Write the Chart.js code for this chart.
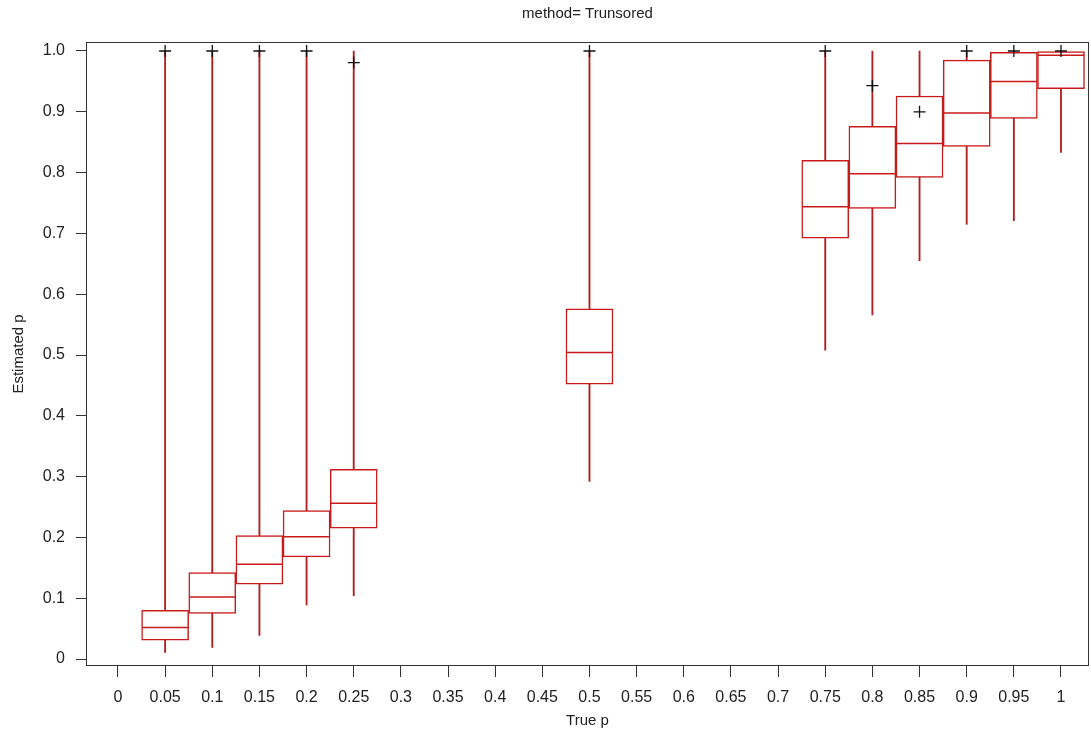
<!DOCTYPE html>
<html>
<head>
<meta charset="utf-8">
<script src="https://cdn.jsdelivr.net/npm/chart.js@4.4.1/dist/chart.umd.min.js"></script>
<style>
  body { margin: 0; background: #fff; }
  #wrap { width: 1091px; height: 751px; }
</style>
</head>
<body>
<div id="wrap"><canvas id="chart" width="1091" height="751"></canvas></div>
<script>
// true p for each box
const trueP = [0.05, 0.1, 0.15, 0.2, 0.25, 0.5, 0.75, 0.8, 0.85, 0.9, 0.95, 1];
// box stats
const whiskLow = [0.011, 0.019, 0.039, 0.089, 0.104, 0.292, 0.508, 0.566, 0.655, 0.715, 0.721, 0.833];
const q1 = [0.031, 0.075, 0.123, 0.168, 0.215, 0.452, 0.692, 0.741, 0.792, 0.843, 0.889, 0.938];
const median = [0.052, 0.102, 0.156, 0.201, 0.256, 0.504, 0.744, 0.798, 0.848, 0.898, 0.950, 0.993];
const q3 = [0.080, 0.142, 0.203, 0.244, 0.312, 0.576, 0.820, 0.876, 0.926, 0.985, 0.998, 0.999];
const whiskHigh = [1.0, 1.0, 1.0, 1.0, 1.0, 1.0, 1.0, 1.0, 1.0, 1.0, 1.0, 1.0];
// the "+" marks
const plusY = [1.0, 1.0, 1.0, 1.0, 0.981, 1.0, 1.0, 0.943, 0.900, 1.0, 1.0, 1.0];

const xTickValues = [0, 0.05, 0.1, 0.15, 0.2, 0.25, 0.3, 0.35, 0.4, 0.45, 0.5, 0.55, 0.6, 0.65, 0.7, 0.75, 0.8, 0.85, 0.9, 0.95, 1];
const xTickLabels = ['0', '0.05', '0.1', '0.15', '0.2', '0.25', '0.3', '0.35', '0.4', '0.45', '0.5', '0.55', '0.6', '0.65', '0.7', '0.75', '0.8', '0.85', '0.9', '0.95', '1'];
const yTickValues = [0, 0.1, 0.2, 0.3, 0.4, 0.5, 0.6, 0.7, 0.8, 0.9, 1.0];
const yTickLabels = ['0', '0.1', '0.2', '0.3', '0.4', '0.5', '0.6', '0.7', '0.8', '0.9', '1.0'];

const RED = '#c81a1a';
const INK = '#222';
const FONT = 'Liberation Sans, Arial, sans-serif';

const pairs = (lo, hi) => trueP.map((x, i) => ({ x: x, y: [lo[i], hi[i]] }));
const points = ys => trueP.map((x, i) => ({ x: x, y: ys[i] }));

// frame round the plot area
const framePlugin = {
  id: 'frame',
  afterDraw(chart) {
    const { ctx, chartArea: a } = chart;
    ctx.save();
    ctx.strokeStyle = '#333';
    ctx.lineWidth = 1;
    ctx.strokeRect(a.left + 0.5, a.top + 0.5, a.right - a.left - 1, a.bottom - a.top - 1);
    ctx.restore();
  }
};

const chart = new Chart(document.getElementById('chart'), {
  type: 'bar',
  data: {
    datasets: [
      {
        type: 'line',
        data: points(plusY),
        showLine: false,
        pointStyle: 'cross',
        pointRadius: 6,
        pointBorderWidth: 1.3,
        pointBorderColor: '#111',
        order: 0
      },
      {
        type: 'line',
        data: points(median),
        showLine: false,
        pointStyle: 'line',
        pointRadius: 23,
        pointBorderWidth: 1.5,
        pointBorderColor: RED,
        order: 1
      },
      {
        data: pairs(q1, q3),
        grouped: false,
        barThickness: 47,
        backgroundColor: '#fff',
        borderColor: RED,
        borderWidth: 1.5,
        borderSkipped: false,
        order: 2
      },
      {
        data: pairs(whiskLow, whiskHigh),
        grouped: false,
        barThickness: 1.2,
        backgroundColor: '#b02020',
        borderWidth: 0,
        order: 3
      }
    ]
  },
  options: {
    responsive: false,
    animation: false,
    layout: { autoPadding: false, padding: { left: 0, right: 2, top: 0, bottom: 0 } },
    plugins: {
      legend: { display: false },
      tooltip: { enabled: false },
      title: { display: false }
    },
    scales: {
      x: {
        type: 'linear',
        min: -0.0339,
        max: 1.0297,
        offset: false,
        afterBuildTicks: s => { s.ticks = xTickValues.map(v => ({ value: v })); },
        afterFit: s => { s.height = 85; s.paddingLeft = 0; s.paddingRight = 0; },
        ticks: {
          autoSkip: false,
          maxRotation: 0,
          padding: 11,
          color: INK,
          font: { family: FONT, size: 16 },
          callback: (v) => xTickLabels[xTickValues.findIndex(t => Math.abs(t - v) < 1e-6)]
        },
        grid: { drawOnChartArea: false, drawTicks: true, tickLength: 11, tickColor: '#333', offset: false },
        border: { display: false },
        title: {
          display: true,
          text: 'True p',
          color: INK,
          font: { family: FONT, size: 15 },
          padding: { top: 4, bottom: 21 }
        }
      },
      // top axis only carries the title, so it sits centred over the plot
      xTop: {
        type: 'linear',
        position: 'top',
        min: -0.0339,
        max: 1.0297,
        afterBuildTicks: s => { s.ticks = []; },
        afterFit: s => { s.height = 42; s.paddingLeft = 0; s.paddingRight = 0; },
        ticks: { display: false },
        grid: { display: false },
        border: { display: false },
        title: {
          display: true,
          text: 'method= Trunsored',
          color: INK,
          font: { family: FONT, size: 15 },
          padding: { top: 5, bottom: 0 }
        }
      },
      y: {
        type: 'linear',
        min: -0.0115,
        max: 1.0148,
        afterBuildTicks: s => { s.ticks = yTickValues.map(v => ({ value: v })); },
        afterFit: s => { s.width = 86; s.paddingTop = 0; s.paddingBottom = 0; },
        ticks: {
          padding: 11,
          color: INK,
          font: { family: FONT, size: 16 },
          callback: (v) => yTickLabels[yTickValues.findIndex(t => Math.abs(t - v) < 1e-6)]
        },
        grid: { drawOnChartArea: false, drawTicks: true, tickLength: 10, tickColor: '#333' },
        border: { display: false },
        title: {
          display: true,
          text: 'Estimated p',
          color: INK,
          font: { family: FONT, size: 15 },
          padding: { top: 10, bottom: 4 }
        }
      }
    }
  },
  plugins: [framePlugin]
});
</script>
</body>
</html>
